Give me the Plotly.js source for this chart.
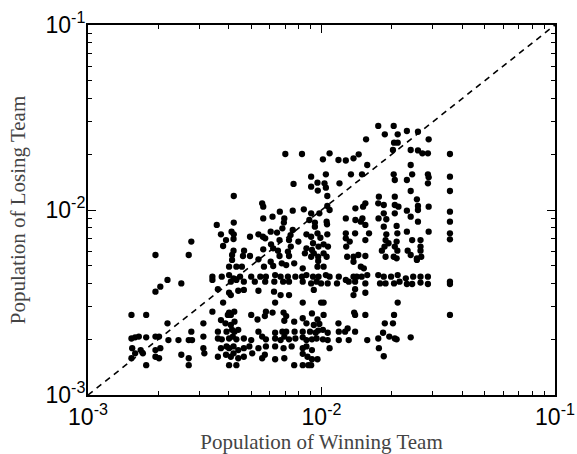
<!DOCTYPE html>
<html>
<head>
<meta charset="utf-8">
<script src="https://cdn.plot.ly/plotly-3.0.1.min.js"></script>
<style>html,body{margin:0;padding:0;background:#fff}#chart{width:577px;height:454px}</style>
</head>
<body>
<div id="chart"></div>
<script>
// Population of Winning Team (x) and Losing Team (y)
var winX = [
17.50e-3,20.38e-3,18.67e-3,21.20e-3,23.21e-3,25.89e-3,15.52e-3,28.77e-3,20.45e-3,21.20e-3,
20.23e-3,24.10e-3,25.89e-3,27.04e-3,28.56e-3,35.49e-3,7.00e-3,8.25e-3,10.83e-3,10.14e-3,
11.82e-3,12.71e-3,14.43e-3,13.71e-3,15.70e-3,24.10e-3,10.44e-3,9.03e-3,13.37e-3,14.91e-3,
20.38e-3,24.45e-3,28.56e-3,35.49e-3,20.60e-3,23.21e-3,28.77e-3,9.61e-3,10.30e-3,28.56e-3,
7.59e-3,11.94e-3,9.03e-3,9.64e-3,10.44e-3,10.59e-3,24.10e-3,35.49e-3,17.61e-3,20.60e-3,
25.62e-3,4.21e-3,5.57e-3,5.63e-3,15.41e-3,17.50e-3,18.48e-3,20.60e-3,21.36e-3,25.89e-3,
28.77e-3,15.07e-3,8.40e-3,10.59e-3,10.83e-3,13.97e-3,6.63e-3,7.53e-3,35.49e-3,9.03e-3,
9.79e-3,23.21e-3,25.89e-3,6.17e-3,6.93e-3,18.48e-3,20.60e-3,12.71e-3,13.97e-3,14.97e-3,
17.55e-3,18.95e-3,24.10e-3,35.49e-3,5.63e-3,8.87e-3,10.52e-3,14.74e-3,3.56e-3,4.21e-3,
6.90e-3,9.37e-3,10.56e-3,15.41e-3,18.48e-3,20.98e-3,25.89e-3,7.53e-3,6.06e-3,6.80e-3,
9.37e-3,3.71e-3,4.12e-3,4.21e-3,4.94e-3,5.37e-3,5.61e-3,6.45e-3,7.37e-3,8.62e-3,
9.61e-3,10.59e-3,12.71e-3,13.93e-3,15.98e-3,18.95e-3,21.13e-3,23.21e-3,28.77e-3,35.49e-3,
2.77e-3,3.90e-3,4.20e-3,5.74e-3,6.61e-3,7.26e-3,7.96e-3,9.03e-3,9.20e-3,9.89e-3,
10.21e-3,12.71e-3,13.21e-3,15.41e-3,18.81e-3,19.37e-3,20.98e-3,24.45e-3,26.55e-3,35.49e-3,
3.79e-3,6.08e-3,6.21e-3,7.39e-3,8.62e-3,9.10e-3,9.71e-3,10.66e-3,12.76e-3,18.62e-3,
20.60e-3,26.55e-3,4.20e-3,4.66e-3,5.63e-3,6.51e-3,7.18e-3,8.49e-3,9.27e-3,10.21e-3,
18.14e-3,21.13e-3,23.39e-3,26.55e-3,1.945e-3,2.70e-3,4.14e-3,4.61e-3,4.94e-3,6.61e-3,
7.26e-3,9.03e-3,9.68e-3,10.52e-3,12.88e-3,13.71e-3,14.38e-3,15.41e-3,18.81e-3,20.38e-3,
20.98e-3,24.10e-3,25.62e-3,26.74e-3,4.14e-3,5.37e-3,6.06e-3,6.76e-3,7.64e-3,9.68e-3,
13.71e-3,25.62e-3,4.02e-3,4.32e-3,4.56e-3,5.67e-3,6.21e-3,7.06e-3,8.31e-3,9.61e-3,
10.21e-3,14.74e-3,15.18e-3,
3.41e-3,3.74e-3,4.02e-3,4.20e-3,4.48e-3,5.00e-3,5.47e-3,5.78e-3,6.33e-3,6.68e-3,
7.18e-3,7.73e-3,8.25e-3,8.62e-3,9.20e-3,9.71e-3,10.44e-3,10.83e-3,11.86e-3,12.71e-3,
13.71e-3,14.16e-3,14.86e-3,15.70e-3,17.50e-3,18.48e-3,19.86e-3,21.20e-3,22.97e-3,24.70e-3,
26.55e-3,28.56e-3,35.49e-3,
3.41e-3,4.09e-3,4.32e-3,4.65e-3,5.18e-3,5.74e-3,6.28e-3,6.85e-3,7.26e-3,8.31e-3,
9.03e-3,9.53e-3,9.96e-3,10.63e-3,11.65e-3,13.08e-3,13.93e-3,15.41e-3,17.81e-3,18.81e-3,
20.45e-3,21.59e-3,23.21e-3,24.45e-3,26.55e-3,28.56e-3,35.49e-3,
1.945e-3,2.04e-3,2.19e-3,2.51e-3,3.60e-3,4.02e-3,4.40e-3,4.65e-3,6.26e-3,6.68e-3,
7.26e-3,9.27e-3,13.93e-3,15.41e-3,13.71e-3,4.09e-3,5.37e-3,
3.79e-3,6.33e-3,8.31e-3,9.96e-3,10.21e-3,21.20e-3,
3.41e-3,4.02e-3,4.23e-3,5.78e-3,6.17e-3,6.88e-3,9.10e-3,10.21e-3,13.80e-3,13.93e-3,
15.41e-3,1.535e-3,1.775e-3,3.71e-3,3.97e-3,4.09e-3,5.00e-3,5.72e-3,7.06e-3,8.31e-3,
9.61e-3,20.45e-3,35.49e-3,
2.19e-3,3.12e-3,3.88e-3,4.09e-3,4.24e-3,5.32e-3,6.93e-3,7.64e-3,8.62e-3,9.27e-3,
9.79e-3,11.82e-3,12.94e-3,18.67e-3,20.23e-3,
2.77e-3,3.60e-3,3.92e-3,4.14e-3,4.24e-3,4.40e-3,5.37e-3,6.33e-3,6.80e-3,7.06e-3,
7.67e-3,8.31e-3,8.93e-3,9.44e-3,9.68e-3,10.14e-3,10.63e-3,11.86e-3,12.62e-3,13.93e-3,
18.35e-3,
1.535e-3,1.592e-3,1.651e-3,1.775e-3,1.945e-3,2.015e-3,2.21e-3,2.44e-3,2.70e-3,2.79e-3,
3.12e-3,3.60e-3,3.74e-3,4.02e-3,4.17e-3,4.32e-3,4.65e-3,5.00e-3,5.57e-3,5.78e-3,
6.33e-3,6.68e-3,6.93e-3,7.26e-3,7.73e-3,8.31e-3,8.62e-3,9.10e-3,9.53e-3,10.14e-3,
10.63e-3,11.86e-3,13.08e-3,15.70e-3,17.50e-3,19.51e-3,20.60e-3,20.98e-3,24.10e-3,
1.546e-3,1.681e-3,1.945e-3,2.04e-3,3.12e-3,3.71e-3,3.92e-3,4.02e-3,4.20e-3,4.40e-3,
4.65e-3,4.91e-3,5.37e-3,5.78e-3,6.33e-3,6.88e-3,7.45e-3,8.31e-3,8.62e-3,9.10e-3,
10.83e-3,17.61e-3,
1.535e-3,1.592e-3,1.718e-3,1.945e-3,2.015e-3,2.51e-3,2.70e-3,3.15e-3,3.60e-3,3.90e-3,
4.09e-3,4.20e-3,4.40e-3,4.65e-3,5.05e-3,5.57e-3,5.72e-3,6.33e-3,6.93e-3,8.31e-3,
8.71e-3,9.10e-3,9.61e-3,18.48e-3,
1.775e-3,2.70e-3,4.02e-3,4.32e-3,7.64e-3,8.31e-3,8.78e-3,9.03e-3
];
var loseY = [
28.46e-3,28.46e-3,25.65e-3,25.65e-3,26.73e-3,26.49e-3,24.10e-3,24.10e-3,23.12e-3,23.12e-3,
21.10e-3,21.10e-3,21.00e-3,20.24e-3,20.24e-3,20.08e-3,20.08e-3,20.08e-3,20.24e-3,18.79e-3,
18.63e-3,18.52e-3,19.99e-3,19.03e-3,17.51e-3,17.51e-3,15.59e-3,15.14e-3,15.59e-3,15.59e-3,
15.59e-3,15.59e-3,15.59e-3,15.14e-3,14.53e-3,14.53e-3,15.02e-3,14.05e-3,13.94e-3,13.94e-3,
13.83e-3,13.94e-3,13.37e-3,12.73e-3,13.20e-3,11.90e-3,12.67e-3,12.67e-3,11.81e-3,11.81e-3,
11.42e-3,11.90e-3,10.86e-3,10.42e-3,10.86e-3,10.86e-3,10.64e-3,10.64e-3,10.42e-3,10.51e-3,
10.42e-3,10.42e-3,10.08e-3,10.51e-3,10.00e-3,10.21e-3,9.79e-3,9.92e-3,9.79e-3,9.59e-3,
9.59e-3,9.92e-3,10.00e-3,9.20e-3,9.01e-3,9.59e-3,9.59e-3,9.01e-3,8.83e-3,9.01e-3,
9.01e-3,8.91e-3,9.20e-3,8.65e-3,9.01e-3,8.83e-3,8.65e-3,8.65e-3,8.30e-3,8.55e-3,
8.55e-3,8.55e-3,8.37e-3,8.30e-3,8.13e-3,8.20e-3,8.65e-3,7.80e-3,7.64e-3,7.96e-3,
8.13e-3,7.39e-3,7.64e-3,7.39e-3,7.17e-3,7.39e-3,7.17e-3,7.55e-3,7.32e-3,7.39e-3,
7.48e-3,7.39e-3,7.48e-3,7.48e-3,7.48e-3,7.39e-3,7.48e-3,7.64e-3,7.64e-3,7.48e-3,
6.75e-3,6.88e-3,6.97e-3,7.03e-3,6.88e-3,6.88e-3,6.75e-3,7.17e-3,6.61e-3,7.08e-3,
6.52e-3,7.03e-3,6.75e-3,6.88e-3,6.88e-3,6.61e-3,6.75e-3,6.88e-3,6.88e-3,6.94e-3,
6.39e-3,6.52e-3,6.21e-3,6.34e-3,6.21e-3,6.08e-3,6.34e-3,6.34e-3,6.34e-3,6.34e-3,
6.34e-3,6.34e-3,6.03e-3,6.03e-3,6.13e-3,6.03e-3,5.96e-3,5.83e-3,5.83e-3,5.83e-3,
6.03e-3,6.03e-3,6.03e-3,6.03e-3,5.71e-3,5.71e-3,5.71e-3,5.64e-3,5.64e-3,5.64e-3,
5.64e-3,5.59e-3,5.59e-3,5.59e-3,5.59e-3,5.59e-3,5.71e-3,5.64e-3,5.59e-3,5.59e-3,
5.48e-3,5.71e-3,5.48e-3,5.59e-3,5.37e-3,5.41e-3,5.25e-3,5.15e-3,5.15e-3,5.30e-3,
5.25e-3,5.37e-3,4.94e-3,4.94e-3,4.94e-3,4.94e-3,4.98e-3,5.04e-3,4.84e-3,4.94e-3,
4.94e-3,4.94e-3,4.84e-3,
4.36e-3,4.36e-3,4.45e-3,4.27e-3,4.36e-3,4.36e-3,4.36e-3,4.36e-3,4.45e-3,4.36e-3,
4.36e-3,4.36e-3,4.36e-3,4.45e-3,4.36e-3,4.36e-3,4.45e-3,4.36e-3,4.36e-3,4.19e-3,
4.36e-3,4.36e-3,4.36e-3,4.45e-3,4.45e-3,4.36e-3,4.36e-3,4.45e-3,4.27e-3,4.36e-3,
4.36e-3,4.36e-3,4.10e-3,
4.19e-3,4.10e-3,4.19e-3,4.10e-3,4.10e-3,4.10e-3,4.10e-3,4.10e-3,4.10e-3,4.10e-3,
4.01e-3,4.10e-3,4.01e-3,4.01e-3,4.01e-3,4.10e-3,4.10e-3,4.01e-3,4.01e-3,4.01e-3,
4.01e-3,4.10e-3,3.98e-3,3.98e-3,4.05e-3,3.98e-3,3.98e-3,
3.62e-3,3.85e-3,4.19e-3,4.01e-3,3.73e-3,3.57e-3,3.66e-3,3.70e-3,3.62e-3,3.47e-3,
3.47e-3,3.70e-3,3.73e-3,3.57e-3,3.47e-3,3.47e-3,3.66e-3,
3.16e-3,3.16e-3,3.16e-3,3.16e-3,3.16e-3,3.16e-3,
2.82e-3,2.79e-3,2.82e-3,2.82e-3,2.79e-3,2.79e-3,2.76e-3,2.71e-3,2.79e-3,2.71e-3,
2.71e-3,2.71e-3,2.71e-3,2.54e-3,2.71e-3,2.71e-3,2.71e-3,2.67e-3,2.67e-3,2.60e-3,
2.56e-3,2.71e-3,2.71e-3,
2.44e-3,2.44e-3,2.44e-3,2.39e-3,2.49e-3,2.56e-3,2.52e-3,2.49e-3,2.44e-3,2.39e-3,
2.42e-3,2.44e-3,2.29e-3,2.44e-3,2.44e-3,
2.20e-3,2.20e-3,2.20e-3,2.25e-3,2.20e-3,2.25e-3,2.20e-3,2.17e-3,2.20e-3,2.20e-3,
2.20e-3,2.20e-3,2.20e-3,2.17e-3,2.23e-3,2.25e-3,2.17e-3,2.20e-3,2.20e-3,2.20e-3,
2.17e-3,
2.02e-3,2.05e-3,2.07e-3,2.05e-3,2.07e-3,2.07e-3,1.98e-3,1.98e-3,1.98e-3,1.98e-3,
2.07e-3,2.02e-3,2.00e-3,2.02e-3,2.07e-3,2.00e-3,2.02e-3,1.98e-3,2.07e-3,2.00e-3,
2.02e-3,1.98e-3,2.07e-3,2.00e-3,2.02e-3,2.05e-3,1.98e-3,2.00e-3,2.02e-3,2.00e-3,
1.98e-3,1.98e-3,1.98e-3,1.98e-3,2.02e-3,2.07e-3,2.02e-3,2.00e-3,2.05e-3,
1.79e-3,1.75e-3,1.75e-3,1.79e-3,1.79e-3,1.79e-3,1.83e-3,1.79e-3,1.83e-3,1.75e-3,
1.79e-3,1.83e-3,1.79e-3,1.83e-3,1.83e-3,1.79e-3,1.83e-3,1.79e-3,1.83e-3,1.75e-3,
1.79e-3,1.79e-3,
1.58e-3,1.68e-3,1.68e-3,1.61e-3,1.58e-3,1.65e-3,1.58e-3,1.68e-3,1.61e-3,1.65e-3,
1.61e-3,1.68e-3,1.58e-3,1.61e-3,1.68e-3,1.58e-3,1.65e-3,1.56e-3,1.58e-3,1.67e-3,
1.61e-3,1.56e-3,1.56e-3,1.62e-3,
1.45e-3,1.45e-3,1.45e-3,1.45e-3,1.45e-3,1.45e-3,1.45e-3,1.45e-3
];
// reference diagonal y = x
var diagX = [1e-3, 1e-1];
var diagY = [1e-3, 1e-1];
// tick labels
var tickVals = [1e-3, 1e-2, 1e-1];
var tickText = ['10<sup>-3</sup>', '10<sup>-2</sup>', '10<sup>-1</sup>'];

var traces = [
  {x: winX, y: loseY, type: 'scatter', mode: 'markers',
   marker: {color: '#000', size: 6.3, line: {width: 0}}, hoverinfo: 'skip'},
  {x: diagX, y: diagY, type: 'scatter', mode: 'lines',
   line: {color: '#000', width: 1.6, dash: '6px,5px'}, hoverinfo: 'skip'}
];
var axisCommon = {
  type: 'log', tickvals: tickVals, ticktext: tickText,
  ticks: 'inside', ticklen: 8, tickwidth: 1, tickcolor: '#000',
  showline: true, linecolor: '#000', linewidth: 2, mirror: 'allticks',
  showgrid: false, zeroline: false,
  tickfont: {family: 'Liberation Sans, Arial, sans-serif', size: 23, color: '#000'},
  minor: {dtick: 'D1', ticks: 'inside', ticklen: 4, tickwidth: 1, tickcolor: '#000', showgrid: false}
};
var layout = {
  width: 577, height: 454,
  margin: {l: 88, r: 22, t: 25, b: 59},
  paper_bgcolor: '#fff', plot_bgcolor: '#fff',
  showlegend: false,
  xaxis: Object.assign({}, axisCommon, {
    range: [-3, -1],
    title: {text: 'Population of Winning Team', standoff: 0,
      font: {family: 'Liberation Serif, Times New Roman, serif', size: 21, color: '#444'}}
  }),
  yaxis: Object.assign({}, axisCommon, {
    range: [-3, -1], ticklabelstandoff: -4,
    title: {text: 'Population of Losing Team', standoff: 14,
      font: {family: 'Liberation Serif, Times New Roman, serif', size: 21, color: '#444'}}
  })
};
Plotly.newPlot('chart', traces, layout, {displayModeBar: false, staticPlot: true});
</script>
</body>
</html>
